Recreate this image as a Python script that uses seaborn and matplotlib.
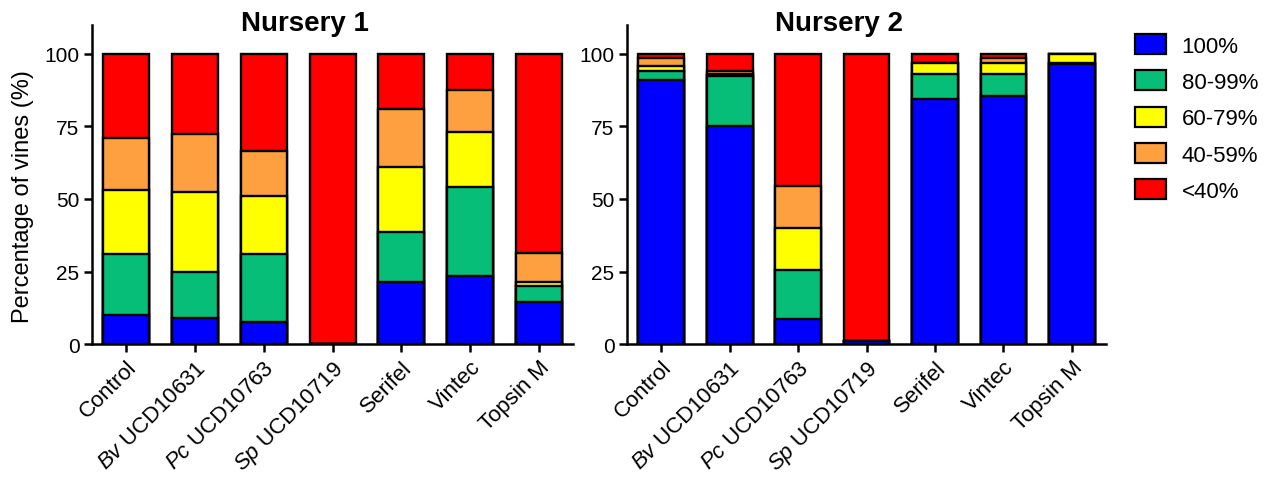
import numpy as np
import pandas as pd
import matplotlib
matplotlib.use("Agg")
import matplotlib.pyplot as plt
from matplotlib.patches import Patch
import seaborn as sns

# Treatments and their displayed labels (species names in italics)
treatments = ["Control", "Bv UCD10631", "Pc UCD10763", "Sp UCD10719",
              "Serifel", "Vintec", "Topsin M"]
tick_labels = ["Control", r"$\it{Bv}$ UCD10631", r"$\it{Pc}$ UCD10763",
               r"$\it{Sp}$ UCD10719", "Serifel", "Vintec", "Topsin M"]

# Health classes (bottom to top of each stack)
classes = ["100%", "80-99%", "60-79%", "40-59%", "<40%"]
class_colors = ["#0000FF", "#06BE78", "#FFFF00", "#FFA040", "#FF0000"]

# Percentage of vines in each class, per treatment
n1_100 = [10, 9, 7.5, 0, 21.5, 23.5, 14.5]
n1_80_99 = [21, 16, 23.5, 0, 17, 30.5, 5.5]
n1_60_79 = [22, 27.5, 20, 0, 22.5, 19, 1.5]
n1_40_59 = [18, 20, 15.5, 0, 20, 14.5, 10]
n1_lt40 = [29, 27.5, 33.5, 100, 19, 12.5, 68.5]

n2_100 = [91, 75, 8.5, 1, 84.5, 85.5, 96.5]
n2_80_99 = [3, 17.5, 17, 0, 8.5, 7.5, 0.5]
n2_60_79 = [2, 0.5, 14.5, 0, 4, 4, 3]
n2_40_59 = [2.5, 1, 14.5, 0, 0, 1.5, 0]
n2_lt40 = [1.5, 6, 45.5, 99, 3, 1.5, 0]

nurseries = {
    "Nursery 1": [n1_100, n1_80_99, n1_60_79, n1_40_59, n1_lt40],
    "Nursery 2": [n2_100, n2_80_99, n2_60_79, n2_40_59, n2_lt40],
}

sns.set_style("ticks")
plt.rcParams["font.family"] = ["Liberation Sans", "DejaVu Sans"]
plt.rcParams["mathtext.fontset"] = "custom"
plt.rcParams["mathtext.rm"] = "Liberation Sans"
plt.rcParams["mathtext.it"] = "Liberation Sans:italic"
for key in ["text.color", "axes.labelcolor", "xtick.color", "ytick.color",
            "axes.edgecolor"]:
    plt.rcParams[key] = "black"

fig = plt.figure(figsize=(12.71, 4.81), dpi=100)
ax1 = fig.add_axes([0.0724, 0.2827, 0.3785, 0.6633])
ax2 = fig.add_axes([0.4933, 0.2827, 0.3770, 0.6633], sharey=ax1)

for ax, (title, series) in zip([ax1, ax2], nurseries.items()):
    cum = np.cumsum(np.array(series, dtype=float), axis=0)
    # draw the tallest cumulative layer first so lower classes sit on top
    for level in range(len(classes) - 1, -1, -1):
        df = pd.DataFrame({"treatment": treatments, "value": cum[level]})
        sns.barplot(data=df, x="treatment", y="value", order=treatments,
                    color=class_colors[level], saturation=1,
                    edgecolor="black", linewidth=1.7, width=0.67, ax=ax)
    ax.set_xlim(-0.5, 6.5)
    ax.set_ylim(0, 110)
    ax.set_yticks([0, 25, 50, 75, 100])
    ax.set_xticks(range(len(treatments)))
    ax.set_xticklabels(tick_labels, rotation=45, ha="right",
                       rotation_mode="anchor", fontsize=16)
    ax.tick_params(axis="both", direction="out", length=6, width=1.8,
                   labelsize=15, colors="black", pad=3)
    ax.tick_params(axis="x", labelsize=16)
    ax.tick_params(axis="y", labelleft=True)
    ax.set_xlabel("")
    ax.set_ylabel("")
    ax.set_title(title, fontsize=20, fontweight="bold", x=0.443, y=0.984,
                 pad=0)
    sns.despine(ax=ax)
    ax.spines["left"].set_linewidth(1.8)
    ax.spines["bottom"].set_linewidth(1.8)

ax1.set_ylabel("Percentage of vines (%)", fontsize=17)
ax1.yaxis.set_label_coords(-0.12, 0.464)

handles = [Patch(facecolor=c, edgecolor="black", linewidth=1.6)
           for c in class_colors]
fig.legend(handles, classes, loc="upper left",
           bbox_to_anchor=(1115 / 1271, 1 - 15 / 481), frameon=False,
           fontsize=16, handlelength=1.4, handleheight=1.0,
           labelspacing=0.62, handletextpad=0.7)

fig.savefig("out.png", dpi=100)
